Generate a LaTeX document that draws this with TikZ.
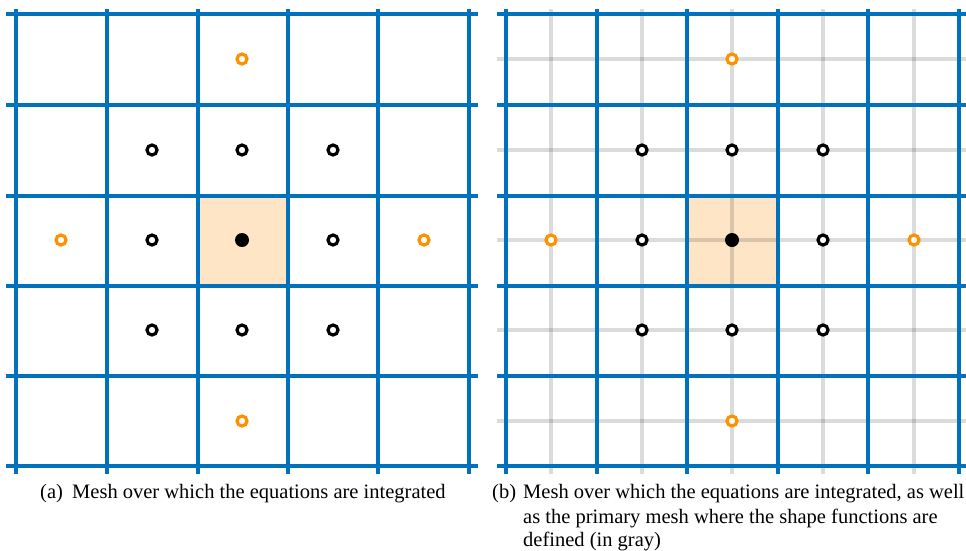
\documentclass[tikz,border=0pt]{standalone}
\usepackage{fontspec}
\setmainfont{Liberation Serif}
\definecolor{meshblue}{RGB}{0,114,189}
\definecolor{dotorange}{RGB}{255,145,0}
\definecolor{cellfill}{RGB}{253,229,197}
\tikzset{
  blueline/.style={draw=meshblue, line width=3.6pt},
  grayline/.style={draw=black, opacity=0.14, line width=3.6pt},
  opendot/.style={circle, draw=black, line width=3.2pt, minimum size=10pt, inner sep=0pt, fill=white},
  orangedot/.style={opendot, draw=dotorange},
  fulldot/.style={circle, fill=black, minimum size=14pt, inner sep=0pt},
  captext/.style={font=\fontsize{20.5}{25}\selectfont, inner sep=0pt, anchor=base west, align=left}
}
\begin{document}
\begin{tikzpicture}[x=1pt,y=-1pt]
\useasboundingbox (0,0) rectangle (966,550);
% ---------- panel (a) ----------
\fill[cellfill] (198,196) rectangle (288,286);
\foreach \v in {16,107,198,288,378,469} {
  \draw[blueline] (\v,9) -- (\v,474);
}
\foreach \h in {14,105,196,286,376,466} {
  \draw[blueline] (6,\h) -- (478,\h);
}
\node[orangedot] (a1) at (242,59) {};
\node[orangedot] (a2) at (61,240) {};
\node[orangedot] (a3) at (424,240) {};
\node[orangedot] (a4) at (242,421) {};
\node[opendot] (a5) at (152,150) {};
\node[opendot] (a6) at (242,150) {};
\node[opendot] (a7) at (333,150) {};
\node[opendot] (a8) at (152,240) {};
\node[opendot] (a9) at (333,240) {};
\node[opendot] (a10) at (152,330) {};
\node[opendot] (a11) at (242,330) {};
\node[opendot] (a12) at (333,330) {};
\node[fulldot] (a13) at (242,240) {};
% ---------- panel (b) ----------
\fill[cellfill] (687,196) rectangle (778,286);
\foreach \v in {551,642,732,823,914} {
  \draw[grayline] (\v,9) -- (\v,474);
}
\foreach \h in {59,150,240,330,421} {
  \draw[grayline] (497,\h) -- (968,\h);
}
\foreach \v in {506,597,687,778,868,959} {
  \draw[blueline] (\v,9) -- (\v,474);
}
\foreach \h in {14,105,196,286,376,466} {
  \draw[blueline] (497,\h) -- (968,\h);
}
\node[orangedot] (b1) at (732,59) {};
\node[orangedot] (b2) at (551,240) {};
\node[orangedot] (b3) at (914,240) {};
\node[orangedot] (b4) at (732,421) {};
\node[opendot] (b5) at (642,150) {};
\node[opendot] (b6) at (732,150) {};
\node[opendot] (b7) at (823,150) {};
\node[opendot] (b8) at (642,240) {};
\node[opendot] (b9) at (823,240) {};
\node[opendot] (b10) at (642,330) {};
\node[opendot] (b11) at (732,330) {};
\node[opendot] (b12) at (823,330) {};
\node[fulldot] (b13) at (732,240) {};
% ---------- captions ----------
\node[captext] (capa) at (40,498) {(a)};
\node[captext] (capatext) at (72,498) {Mesh over which the equations are integrated};
\node[captext] (capb) at (492,498) {(b)};
\node[captext] (capbl1) at (523,498) {Mesh over which the equations are integrated, as well};
\node[captext] (capbl2) at (523,523) {as the primary mesh where the shape functions are};
\node[captext] (capbl3) at (523,546) {defined (in gray)};
\end{tikzpicture}
\end{document}
